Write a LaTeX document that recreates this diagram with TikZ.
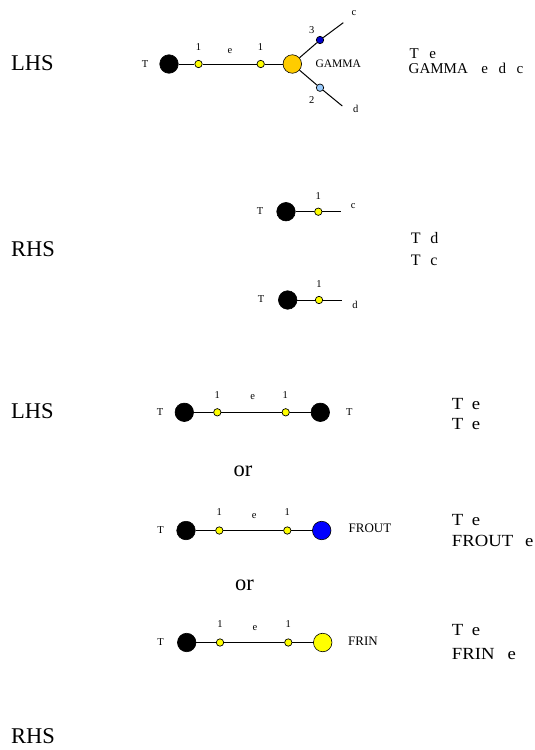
\documentclass[tikz,border=0pt]{standalone}
\usepackage{fontspec}
\setmainfont{Liberation Serif}
\newfontfamily\widefont[FakeStretch=1.1]{Liberation Serif}
\begin{document}
\begin{tikzpicture}[x=1pt,y=-1pt,
  big/.style={circle,draw=black,line width=0.6pt,minimum size=18.5pt,inner sep=0pt},
  small/.style={circle,draw=black,line width=0.7pt,minimum size=7.4pt,inner sep=0pt},
  lab/.style={inner sep=0pt,font=\fontsize{10.5}{12}\selectfont},
  hd/.style={inner sep=0pt,anchor=base west,font=\fontsize{22.5}{26}\selectfont},
  rt/.style={inner sep=0pt,anchor=base west,font=\fontsize{15}{18}\selectfont},
  rtb/.style={inner sep=0pt,anchor=base west,font=\widefont\fontsize{17}{19}\selectfont},
  edge/.style={line width=1pt}]
\useasboundingbox (0,0) rectangle (535,750);
\definecolor{gold}{RGB}{255,204,0}
\definecolor{yel}{RGB}{255,255,0}
\definecolor{dblue}{RGB}{0,0,204}
\definecolor{lblue}{RGB}{153,204,255}
\definecolor{fblue}{RGB}{0,0,255}

% ---------- row 1 ----------
\node[hd] (h1) at (11,70) {LHS};
\node[lab] (t1) at (145,64) {T};
\node[big,fill=black] (a1) at (169,64) {};
\node[small,fill=yel] (a2) at (198.5,64) {};
\node[small,fill=yel] (a3) at (260.7,64) {};
\node[big,fill=gold] (a4) at (292.3,64) {};
\node[small,fill=dblue] (a5) at (320,40) {};
\node[small,fill=lblue] (a6) at (320,87.7) {};
\coordinate (ac) at (343.3,22.7);
\coordinate (ad) at (342.3,106);
\draw[edge] (a1) -- (a2) -- (a3) -- (a4);
\draw[edge] (a4) -- (a5) -- (ac);
\draw[edge] (a4) -- (a6) -- (ad);
\node[lab] (l11) at (198.5,47) {1};
\node[lab] (l12) at (230,50.8) {e};
\node[lab] (l13) at (260.5,47.3) {1};
\node[lab,font=\fontsize{11.5}{13}\selectfont] (g1) at (338.3,64) {GAMMA};
\node[lab] (l14) at (311.7,30) {3};
\node[lab] (l15) at (354,13.3) {c};
\node[lab] (l16) at (311.7,100) {2};
\node[lab] (l17) at (355.7,109.3) {d};
\node[rt] (r11) at (409.5,58.3) {T\hspace{0.7em}e};
\node[rt] (r12) at (408.5,73.3) {GAMMA\hspace{0.9em}e\hspace{0.7em}d\hspace{0.7em}c};

% ---------- row 2 ----------
\node[hd] (h2) at (11,256) {RHS};
\node[lab] (t2) at (260,210.7) {T};
\node[big,fill=black] (b1) at (286,211.7) {};
\node[small,fill=yel] (b2) at (318.3,211.7) {};
\coordinate (bc) at (340.7,211.7);
\draw[edge] (b1) -- (b2) -- (bc);
\node[lab] (l21) at (318.3,195.7) {1};
\node[lab] (l22) at (353.3,206) {c};
\node[lab] (t3) at (261,299) {T};
\node[big,fill=black] (c1) at (287.7,300) {};
\node[small,fill=yel] (c2) at (319,300) {};
\coordinate (cd) at (341.7,300);
\draw[edge] (c1) -- (c2) -- (cd);
\node[lab] (l23) at (319,284) {1};
\node[lab] (l24) at (355,305) {d};
\node[rt,font=\fontsize{16}{19}\selectfont] (r21) at (410.7,243.3) {T\hspace{0.6em}d};
\node[rt,font=\fontsize{16}{19}\selectfont] (r22) at (410.7,265) {T\hspace{0.6em}c};

% ---------- row 3 ----------
\node[hd] (h3) at (11,418) {LHS};
\node[lab] (t4) at (160,411.7) {T};
\node[big,fill=black] (d1) at (184.3,412.3) {};
\node[small,fill=yel] (d2) at (217.3,412.3) {};
\node[small,fill=yel] (d3) at (285.7,412.3) {};
\node[big,fill=black] (d4) at (320.3,412.3) {};
\draw[edge] (d1) -- (d2) -- (d3) -- (d4);
\node[lab] (l31) at (217.3,395) {1};
\node[lab] (l32) at (252.7,397.3) {e};
\node[lab] (l33) at (285.3,395) {1};
\node[lab] (t5) at (349.3,411.7) {T};
\node[rtb] (r31) at (451.7,409.3) {T\hspace{0.5em}e};
\node[rtb] (r32) at (451.7,429.3) {T\hspace{0.5em}e};

\node[hd] (o1) at (233.3,476) {or};

% ---------- row 4 ----------
\node[lab] (t6) at (160.7,530) {T};
\node[big,fill=black] (e1) at (186,530.5) {};
\node[small,fill=yel] (e2) at (219.3,530.5) {};
\node[small,fill=yel] (e3) at (287.3,530.5) {};
\node[big,fill=fblue] (e4) at (321.7,530.5) {};
\draw[edge] (e1) -- (e2) -- (e3) -- (e4);
\node[lab] (l41) at (219.3,511.7) {1};
\node[lab] (l42) at (254.3,515.7) {e};
\node[lab] (l43) at (287.3,511.7) {1};
\node[lab,font=\fontsize{13}{15}\selectfont] (fo) at (370,528.3) {FROUT};
\node[rtb] (r41) at (451.7,525) {T\hspace{0.5em}e};
\node[rtb] (r42) at (451.7,546.7) {FROUT};
\node[rtb] (r43) at (525,546.7) {e};

\node[hd] (o2) at (235,590.7) {or};

% ---------- row 5 ----------
\node[lab] (t7) at (160.7,642.3) {T};
\node[big,fill=black] (f1) at (186.7,642.5) {};
\node[small,fill=yel] (f2) at (220,642.5) {};
\node[small,fill=yel] (f3) at (288.3,642.5) {};
\node[big,fill=yel] (f4) at (322.7,642.5) {};
\draw[edge] (f1) -- (f2) -- (f3) -- (f4);
\node[lab] (l51) at (220,624) {1};
\node[lab] (l52) at (255,628.3) {e};
\node[lab] (l53) at (288.3,624) {1};
\node[lab,font=\fontsize{13}{15}\selectfont] (fi) at (363,641.7) {FRIN};
\node[rtb] (r51) at (451.7,635) {T\hspace{0.5em}e};
\node[rtb] (r52) at (451.7,659.3) {FRIN};
\node[rtb] (r53) at (507.5,659.3) {e};

\node[hd] (h4) at (11,743) {RHS};
\end{tikzpicture}
\end{document}
